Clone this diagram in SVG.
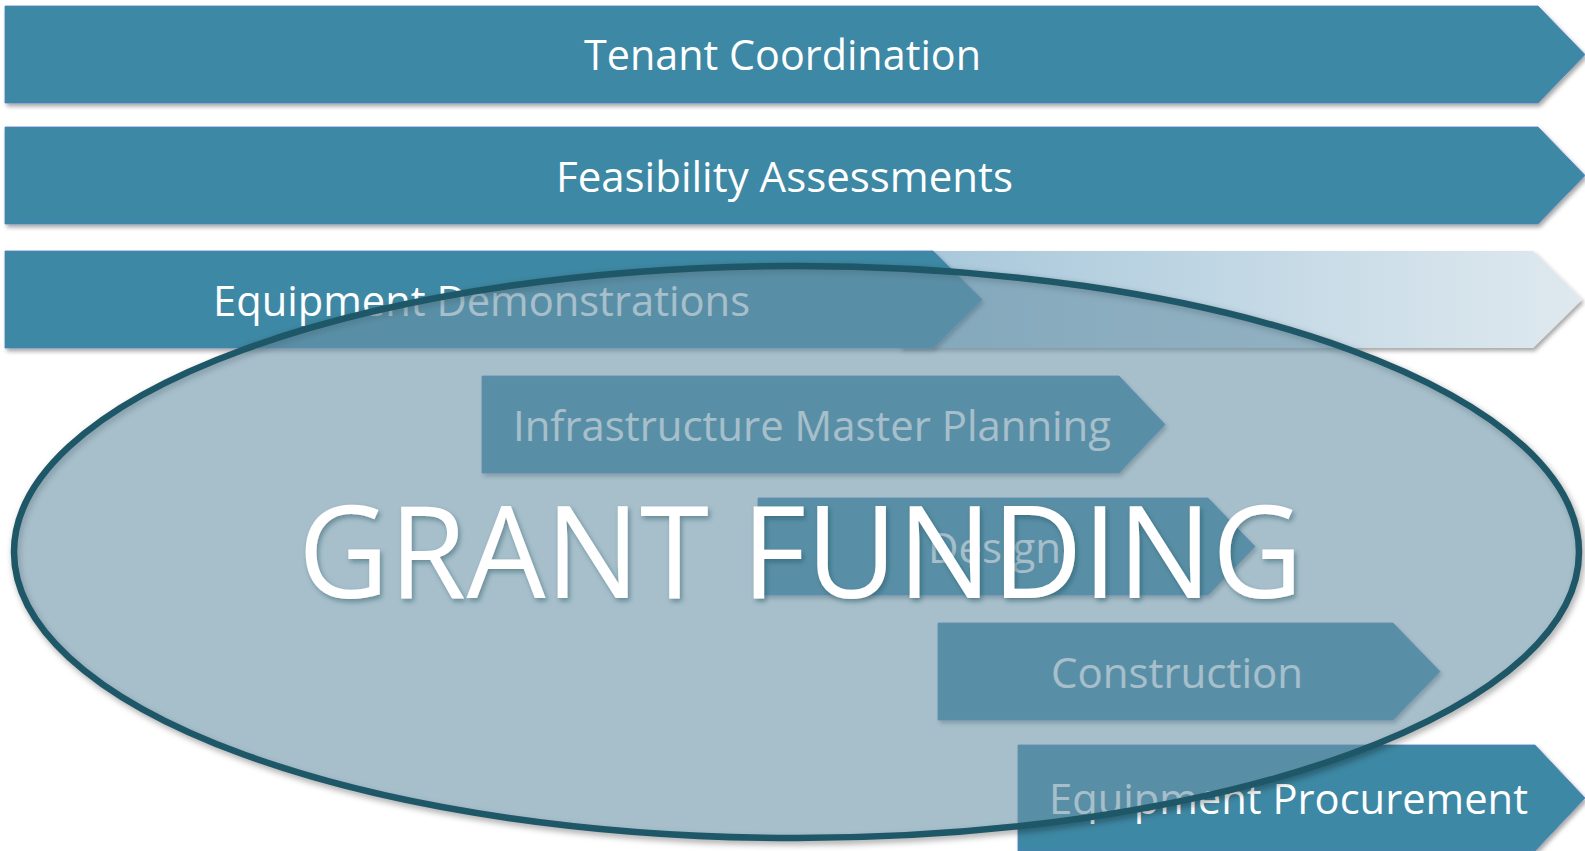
<svg xmlns="http://www.w3.org/2000/svg" width="1585" height="851" viewBox="0 0 1585 851">
  <defs>
    <filter id="shadow" x="-5%" y="-20%" width="110%" height="150%">
      <feDropShadow dx="2" dy="3" stdDeviation="2" flood-color="#000" flood-opacity="0.35"/>
    </filter>
    <filter id="textShadow" x="-5%" y="-20%" width="110%" height="150%">
      <feDropShadow dx="2" dy="3" stdDeviation="2.5" flood-color="#1d4a58" flood-opacity="0.45"/>
    </filter>
    <filter id="ringBlur" x="-5%" y="-10%" width="110%" height="120%">
      <feGaussianBlur stdDeviation="3"/>
    </filter>
    <linearGradient id="fade" gradientUnits="userSpaceOnUse" x1="930" y1="0" x2="1582" y2="0">
      <stop offset="0" stop-color="#a8c8db"/>
      <stop offset="1" stop-color="#dfe9ef"/>
    </linearGradient>
    <style>
      .arrow { fill: #3e88a4; stroke: #4f7fc0; stroke-width: 1; stroke-opacity: 0.8; filter: url(#shadow); }
      .label { font-family: "Open Sans", "Noto Sans", sans-serif; font-size: 42px; fill: #ffffff; text-anchor: middle; }
      .title { font-family: "Open Sans", "Noto Sans", sans-serif; font-size: 128px; fill: #ffffff; text-anchor: middle; filter: url(#textShadow); }
    </style>
  </defs>

  <rect width="1585" height="851" fill="#ffffff"/>

  <g id="tenant-coordination">
    <path class="arrow" d="M5,6 H1538 L1585,54.5 L1538,103 H5 Z"/>
    <text class="label" x="782.5" y="70" textLength="397" lengthAdjust="spacingAndGlyphs">Tenant Coordination</text>
  </g>

  <g id="feasibility-assessments">
    <path class="arrow" d="M5,127 H1538 L1585,175.5 L1538,224 H5 Z"/>
    <text class="label" x="784.5" y="192" textLength="457" lengthAdjust="spacingAndGlyphs">Feasibility Assessments</text>
  </g>

  <g id="equipment-demonstrations">
    <!-- faded continuation of the phase -->
    <path d="M900,251 H1533 L1582,299.5 L1533,348 H900 Z" fill="url(#fade)" filter="url(#shadow)"/>
    <path class="arrow" d="M5,251 H933 L982,299.5 L933,348 H5 Z"/>
    <text class="label" x="481.5" y="316" textLength="537" lengthAdjust="spacingAndGlyphs">Equipment Demonstrations</text>
  </g>

  <g id="infrastructure-master-planning">
    <path class="arrow" d="M482,376 H1119 L1165,424.5 L1119,473 H482 Z"/>
    <text class="label" x="812" y="441" textLength="598" lengthAdjust="spacingAndGlyphs">Infrastructure Master Planning</text>
  </g>

  <g id="design">
    <path class="arrow" d="M758,498 H1208 L1255,546.5 L1208,595 H758 Z"/>
    <text class="label" x="994.5" y="563" textLength="133" lengthAdjust="spacingAndGlyphs">Design</text>
  </g>

  <g id="construction">
    <path class="arrow" d="M938,623 H1393 L1440,671.5 L1393,720 H938 Z"/>
    <text class="label" x="1177" y="688" textLength="252" lengthAdjust="spacingAndGlyphs">Construction</text>
  </g>

  <g id="equipment-procurement">
    <path class="arrow" d="M1018,745 H1535 L1585,798 L1535,851 H1018 Z"/>
    <text class="label" x="1288.5" y="814" textLength="479" lengthAdjust="spacingAndGlyphs">Equipment Procurement</text>
  </g>

  <g id="connectors"/>

  <g id="grant-funding">
    <!-- soft shadow under the ring -->
    <ellipse cx="798.5" cy="555" rx="782.5" ry="286" fill="none" stroke="#000" stroke-opacity="0.35" stroke-width="7" filter="url(#ringBlur)"/>
    <ellipse cx="796.5" cy="552" rx="782.5" ry="286" fill="#6c94a8" fill-opacity="0.6" stroke="#1e5767" stroke-width="6.5"/>
    <text class="title" x="800.5" y="598" textLength="1005" lengthAdjust="spacingAndGlyphs">GRANT FUNDING</text>
  </g>
</svg>
